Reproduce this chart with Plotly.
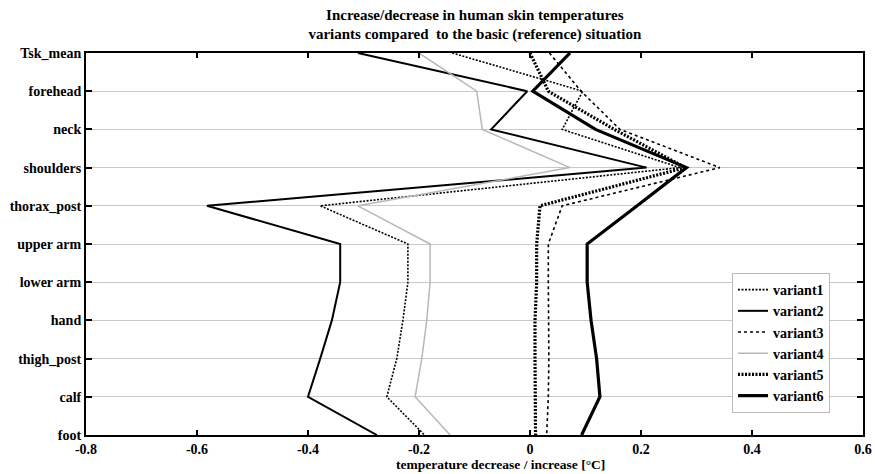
import plotly.graph_objects as go

# Body sites, top to bottom
sites = ["Tsk_mean", "forehead", "neck", "shoulders", "thorax_post", "upper arm",
         "lower arm", "hand", "thigh_post", "calf", "foot"]

# Skin temperature change of each variant against the reference case [°C]
variant1 = [-0.14, 0.095, 0.058, 0.27, -0.378, -0.22, -0.22, -0.229, -0.24, -0.258, -0.19]
variant2 = [-0.31, -0.005, -0.07, 0.21, -0.582, -0.342, -0.342, -0.357, -0.378, -0.40, -0.276]
variant3 = [0.035, 0.092, 0.162, 0.342, 0.058, 0.033, 0.033, 0.034, 0.034, 0.033, 0.03]
variant4 = [-0.20, -0.096, -0.086, 0.072, -0.31, -0.18, -0.18, -0.186, -0.195, -0.207, -0.144]
variant5 = [0.0, 0.033, 0.152, 0.28, 0.018, 0.012, 0.012, 0.009, 0.009, 0.009, 0.01]
variant6 = [0.072, 0.005, 0.118, 0.282, 0.193, 0.103, 0.103, 0.11, 0.12, 0.126, 0.093]

x_ticks = [-0.8, -0.6, -0.4, -0.2, 0, 0.2, 0.4, 0.6]
x_tick_labels = ["-0.8", "-0.6", "-0.4", "-0.2", "0", "0.2", "0.4", "0.6"]

series = [
    ("variant1", variant1, dict(color="black", width=1.6, dash="2px,1.5px")),
    ("variant2", variant2, dict(color="black", width=2)),
    ("variant3", variant3, dict(color="black", width=1.6, dash="3px,3px")),
    ("variant4", variant4, dict(color="#b8b8b8", width=1.5)),
    ("variant5", variant5, dict(color="black", width=3.2, dash="2px,1.5px")),
    ("variant6", variant6, dict(color="black", width=3.2)),
]

serif = "Liberation Serif"

fig = go.Figure()
for name, vals, line in series:
    fig.add_trace(go.Scatter(x=vals, y=sites, mode="lines", name=name, line=line))

fig.update_layout(
    width=875, height=474,
    margin=dict(l=86, r=12, t=53, b=39, autoexpand=False),
    paper_bgcolor="white", plot_bgcolor="white",
    title=dict(
        text="<b>Increase/decrease in human skin temperatures<br>variants compared  to the basic (reference) situation</b>",
        x=0.5427, xanchor="center", yref="container", y=0.958, yanchor="top",
        font=dict(family=serif, size=15, color="black"),
    ),
    font=dict(family=serif, size=12, color="black"),
    legend=dict(
        x=0.8314, xanchor="left", y=0.424, yanchor="top",
        bgcolor="white", bordercolor="#bbbbbb", borderwidth=1,
        font=dict(family=serif, size=14, color="black", weight="bold"),
        tracegroupgap=0, itemwidth=30,
    ),
    annotations=[dict(
        text="<b>temperature decrease / increase [°C]</b>",
        xref="paper", yref="paper", x=0.534, y=-0.078,
        xanchor="center", yanchor="middle", showarrow=False,
        font=dict(family=serif, size=13.5, color="black"),
    )],
)

fig.update_xaxes(
    range=[-0.8, 0.6], tickvals=x_ticks, ticktext=x_tick_labels,
    showgrid=False, zeroline=False, automargin=False,
    showline=True, linecolor="black", linewidth=2, mirror="ticks",
    ticks="inside", ticklen=5, tickwidth=1.5, tickcolor="black",
    tickfont=dict(family=serif, size=14, color="black", weight="bold"),
)
fig.update_yaxes(
    type="category", categoryorder="array", categoryarray=sites,
    range=[len(sites) - 1, 0], automargin=False,
    showgrid=True, gridcolor="#c8c8c8", gridwidth=1.2, zeroline=False,
    showline=True, linecolor="black", linewidth=2, mirror="ticks",
    ticks="inside", ticklen=6, tickwidth=1.5, tickcolor="black",
    tickfont=dict(family=serif, size=14, color="black", weight="bold"),
)

fig.write_html("out.html")
